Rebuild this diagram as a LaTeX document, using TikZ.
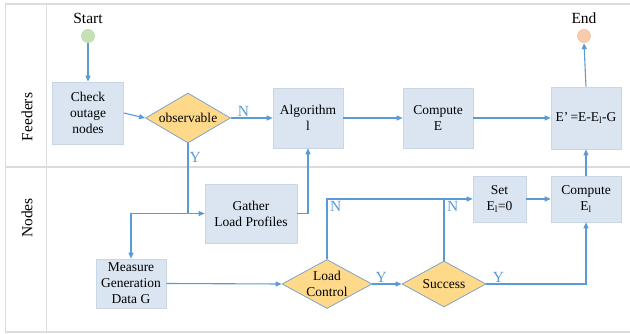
\documentclass[tikz,border=0pt]{standalone}
\usepackage{fontspec}
\setmainfont{Liberation Serif}
\usetikzlibrary{shapes.geometric,arrows.meta}
\definecolor{lnblue}{HTML}{5B9BD5}
\definecolor{boxfill}{HTML}{DAE5F1}
\definecolor{boxline}{HTML}{C8D6E6}
\definecolor{diafill}{HTML}{FFD98A}
\definecolor{dialine}{HTML}{7FA3C9}
\definecolor{lane}{HTML}{DCDCDC}
\definecolor{startc}{HTML}{C5E0B4}
\definecolor{endc}{HTML}{F8CBAD}
\begin{document}
\begin{tikzpicture}[x=1pt,y=-1pt,
  font=\fontsize{13.5}{16}\selectfont,
  bigtxt/.style={font=\fontsize{15.5}{17}\selectfont},
  pbox/.style={draw=boxline, line width=0.6pt, fill=boxfill, align=center, inner sep=0pt},
  dia/.style={diamond, draw=dialine, line width=0.8pt, fill=diafill, inner sep=0pt},
  arr/.style={draw=lnblue, line width=1.1pt, -{Triangle[length=6pt,width=5pt]}},
  ln/.style={draw=lnblue, line width=1.1pt},
  lbl/.style={text=lnblue, inner sep=1pt, font=\fontsize{15.5}{17}\selectfont},
  laneline/.style={draw=lane, line width=1.6pt}]
\useasboundingbox (0,0) rectangle (630,334);
% swimlane frame
\draw[laneline] (5,4) -- (630,4);
\draw[laneline] (5,167) -- (630,167);
\draw[laneline] (5,332) -- (630,332);
\draw[laneline] (5.5,4) -- (5.5,332);
\draw[laneline] (46.5,4) -- (46.5,332);
\node[rotate=90, bigtxt] (feeders) at (27,117) {Feeders};
\node[rotate=90, bigtxt] (nodes) at (27,218) {Nodes};
% start / end
\node[circle, fill=startc, minimum size=14pt, inner sep=0pt] (start) at (88,36) {};
\node[bigtxt] (starttxt) at (88,18) {Start};
\node[circle, fill=endc, minimum size=14pt, inner sep=0pt] (end) at (584,36) {};
\node[bigtxt] (endtxt) at (584,18) {End};
% feeders lane
\node[pbox, minimum width=71pt, minimum height=62pt] (check) at (88,113) {Check\\outage\\nodes};
\node[dia, minimum width=85pt, minimum height=50pt, label={[inner sep=0pt]center:observable}] (obs) at (188,118) {};
\node[pbox, minimum width=70pt, minimum height=60pt] (alg) at (308,118) {Algorithm\\l};
\node[pbox, minimum width=70pt, minimum height=60pt] (compE) at (438,118) {Compute\\E};
\node[pbox, minimum width=70pt, minimum height=62pt] (eprime) at (586,118) {E’\,=E-E\textsubscript{l}-G};
% nodes lane
\node[pbox, minimum width=92pt, minimum height=59pt] (gather) at (251,213.5) {Gather\\Load Profiles};
\node[pbox, minimum width=70pt, minimum height=49pt] (measure) at (131,283.5) {Measure\\Generation\\Data G};
\node[dia, minimum width=90pt, minimum height=49pt, label={[align=center, inner sep=0pt]center:Load\\Control}] (lc) at (327,284) {};
\node[dia, minimum width=84pt, minimum height=46pt, label={[inner sep=0pt]center:Success}] (succ) at (444,284) {};
\node[pbox, minimum width=53pt, minimum height=46pt] (set) at (499.5,199) {Set\\E\textsubscript{l}=0};
\node[pbox, minimum width=70pt, minimum height=46pt] (compEl) at (586,199) {Compute\\E\textsubscript{l}};
% connectors
\draw[arr] (start) -- (check.north);
\draw[arr] (check.east) -- (obs.west);
\draw[arr] (obs.east) -- node[lbl, pos=0.3, above] {N} (alg.west);
\draw[arr] (alg.east) -- (compE.west);
\draw[arr] (compE.east) -- (eprime.west);
\draw[arr] (eprime.north) -- (end.south);
\coordinate (j1) at (obs.south |- gather.west);
\draw[arr] (obs.south) -- node[lbl, pos=0.2, right] {Y} (j1) -- (gather.west);
\draw[arr] (j1) -| (measure.north);
\draw[arr] (gather.east) -| (alg.south);
\draw[arr] (measure.east) -- (lc.west);
\draw[arr] (lc.east) -- node[lbl, pos=0.3, above] {Y} (succ.west);
\draw[arr] (succ.east) -| node[lbl, pos=0.06, above] {Y} (compEl.south);
\coordinate (j2) at (lc.north |- set.west);
\draw[arr] (lc.north) -- (j2) -- (set.west);
\node[lbl, anchor=north west] (n1) at ([xshift=2pt,yshift=-1pt]j2) {N};
\coordinate (j3) at (succ.north |- set.west);
\draw[ln] (succ.north) -- (j3);
\node[lbl, anchor=north west] (n2) at ([xshift=2pt,yshift=-1pt]j3) {N};
\draw[arr] (set.east) -- (compEl.west);
\draw[arr] (compEl.north) -- (eprime.south);
\end{tikzpicture}
\end{document}
